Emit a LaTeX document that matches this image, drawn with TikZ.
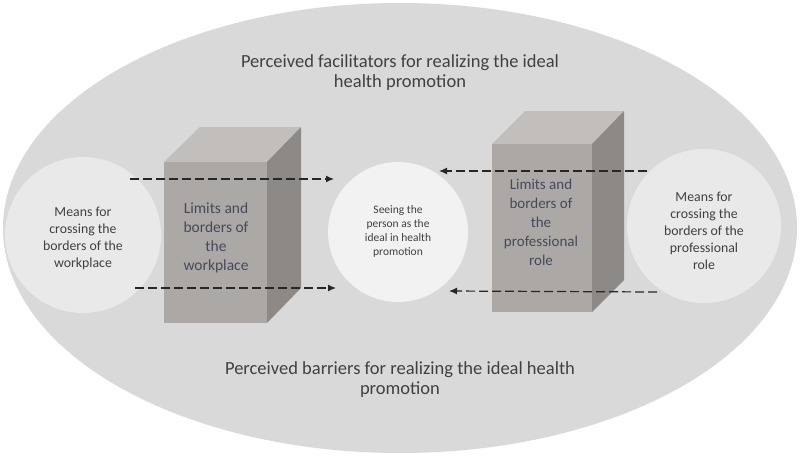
\documentclass[tikz,border=0pt]{standalone}
\usepackage{fontspec}
\setmainfont{Carlito}
\usetikzlibrary{arrows.meta}
\definecolor{bgell}{RGB}{217,217,217}
\definecolor{lcirc}{RGB}{233,233,233}
\definecolor{ccirc}{RGB}{242,242,242}
\definecolor{boxfront}{RGB}{172,168,166}
\definecolor{boxtop}{RGB}{193,190,188}
\definecolor{boxside}{RGB}{141,137,135}
\definecolor{txtgray}{RGB}{64,64,64}
\definecolor{txtslate}{RGB}{68,74,92}
\tikzset{
  circtext/.style={align=center, text=txtgray, font=\fontsize{13.8}{17}\selectfont},
  boxtext/.style={align=center, text=txtslate, font=\fontsize{15.5}{19}\selectfont},
  titletext/.style={align=center, text=txtgray, font=\fontsize{18.5}{20}\selectfont},
  darrow/.style={draw=black!85, line width=1.2pt, dash pattern=on 9pt off 4pt, -{Latex[length=8pt,width=7pt]}},
}
\begin{document}
\begin{tikzpicture}[x=1pt,y=-1pt]
\useasboundingbox (0,0) rectangle (800,455);
\fill[white] (0,0) rectangle (800,455);
% outer ellipse
\fill[bgell] (400,228) ellipse [x radius=397, y radius=225];
% titles
\node[titletext] (fac) at (400,73) {Perceived facilitators for realizing the ideal\\health promotion};
\node[titletext] (bar) at (400,380) {Perceived barriers for realizing the ideal health\\promotion};
% circles
\fill[lcirc] (83,235) circle [radius=78];
\node[circtext] (lc) at (83,238) {Means for\\crossing the\\borders of the\\workplace};
\fill[lcirc] (704,226) circle [radius=77];
\node[circtext] (rc) at (704,231) {Means for\\crossing the\\borders of the\\professional\\role};
\fill[ccirc] (398,232) circle [radius=70];
\node[circtext, font=\fontsize{11.5}{14}\selectfont] (cc) at (398,231) {Seeing the\\person as the\\ideal in health\\promotion};
% left box
\fill[boxtop] (164,162) -- (200,127) -- (301,127) -- (267,162) -- cycle;
\fill[boxside] (267,162) -- (301,127) -- (301,288) -- (267,323) -- cycle;
\fill[boxfront] (164,162) rectangle (267,323);
\node[boxtext] (lb) at (216,238) {Limits and\\borders of\\the\\workplace};
% right box
\fill[boxtop] (492,144) -- (525,111) -- (624,111) -- (592,144) -- cycle;
\fill[boxside] (592,144) -- (624,111) -- (624,280) -- (592,312) -- cycle;
\fill[boxfront] (492,144) rectangle (592,312);
\node[boxtext, font=\fontsize{15}{19}\selectfont] (rb) at (541,222) {Limits and\\borders of\\the\\professional\\role};
% connectors
\coordinate (lt1) at (130,179);
\coordinate (lt2) at (334,179);
\coordinate (lb1) at (135,288);
\coordinate (lb2) at (336,288);
\coordinate (rt1) at (647,171);
\coordinate (rt2) at (439,171);
\coordinate (rb1) at (657,292);
\coordinate (rb2) at (449,291);
\draw[darrow] (lt1) -- (lt2);
\draw[darrow] (lb1) -- (lb2);
\draw[darrow] (rt1) -- (rt2);
\draw[darrow] (rb1) -- (rb2);
\end{tikzpicture}
\end{document}
